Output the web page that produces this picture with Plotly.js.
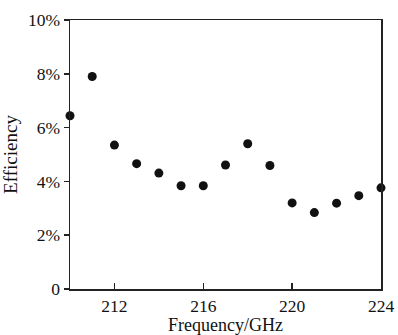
<!DOCTYPE html>
<html><head><meta charset="utf-8">
<script src="https://cdn.plot.ly/plotly-3.0.1.min.js"></script>
<style>html,body{margin:0;padding:0;background:#fff}#c{width:398px;height:335px}</style>
</head><body><div id="c"></div>
<script>
const frequency = [210,211,212,213,214,215,216,217,218,219,220,221,222,223,224];
const efficiency = [6.44,7.90,5.35,4.66,4.31,3.84,3.84,4.61,5.40,4.59,3.20,2.84,3.19,3.47,3.76];
const xTicks = [212,216,220,224];
const yTicks = [0,2,4,6,8,10];
const yTickLabels = ['0','2%','4%','6%','8%','10%'];

const fam = 'Liberation Serif, Times New Roman, serif';
const tickFont = {family:fam, size:17.5, color:'#111'};
const titleFont = {family:fam, size:18, color:'#111'};
Plotly.newPlot('c', [{
  x: frequency, y: efficiency, type:'scatter', mode:'markers',
  marker:{size:9, color:'#111'}, cliponaxis:false
}], {
  width:398, height:335,
  margin:{l:70, r:17, t:20, b:46},
  paper_bgcolor:'#fff', plot_bgcolor:'#fff',
  showlegend:false,
  font: tickFont,
  xaxis:{range:[210,224], tickvals:xTicks, ticks:'inside', ticklen:6, tickwidth:1.5, tickcolor:'#222',
    showline:true, linecolor:'#222', linewidth:1.5, mirror:true, showgrid:false, zeroline:false,
    tickfont:tickFont, title:{text:'Frequency/GHz', font:titleFont, standoff:4}},
  yaxis:{range:[0,10], tickvals:yTicks, ticktext:yTickLabels, ticks:'outside', ticklen:5, tickwidth:1.5, tickcolor:'#222',
    showline:true, linecolor:'#222', linewidth:1.5, mirror:true, showgrid:false, zeroline:false,
    tickfont:tickFont, title:{text:'Efficiency', font:{family:fam, size:19, color:'#111'}, standoff:6}}
}, {displayModeBar:false, staticPlot:true});
</script></body></html>
